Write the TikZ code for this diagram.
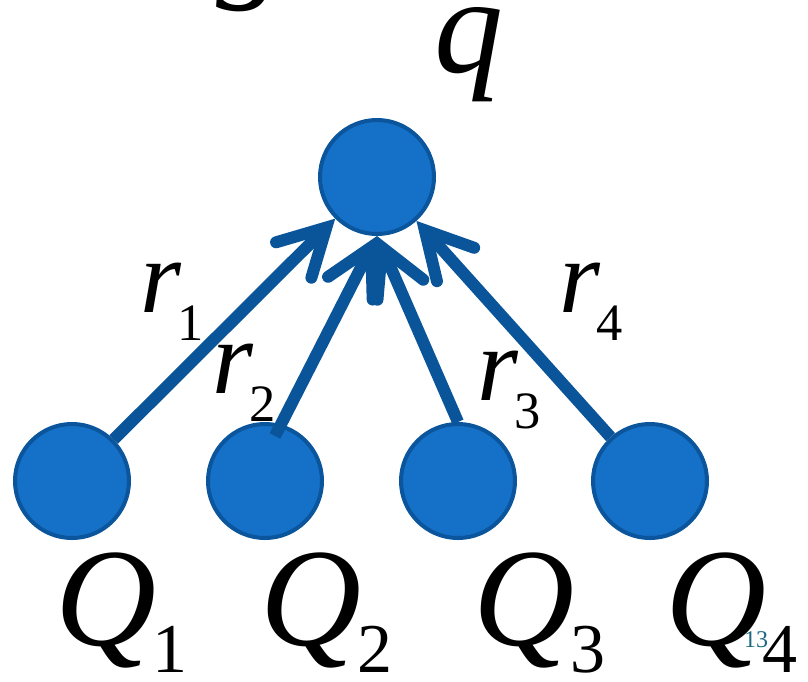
\documentclass[tikz,border=0pt]{standalone}
\usepackage{fontspec}
\setmainfont{Liberation Serif}
\usetikzlibrary{arrows.meta,calc}
\definecolor{ballfill}{HTML}{1570C8}
\definecolor{balledge}{HTML}{0B559C}
\definecolor{linkblue}{HTML}{0A5599}
\definecolor{pageteal}{HTML}{1B6A82}
\newcommand{\bigsym}[4]{{\fontsize{#3}{#3}\selectfont\itshape #1}\kern-4pt\raisebox{#4}{\fontsize{0.5\dimexpr#3\relax}{#3}\selectfont #2}}
\tikzset{
  ball/.style={circle, fill=ballfill, draw=balledge, line width=4pt, minimum size=114pt, inner sep=0pt},
  link/.style={draw=linkblue, line width=12pt, -{Straight Barb[length=46pt, width=50pt, line cap=round]}},
  lbl/.style={anchor=base west, inner sep=0pt, text=black}
}
\begin{document}
\begin{tikzpicture}[x=1pt, y=-1pt]
  \fill[white] (0,0) rectangle (808,681);
  \useasboundingbox (0,0) rectangle (808,681);
  \node[ball] (q) at (377,177) {};
  \node[ball] (Q1) at (72,481) {};
  \node[ball] (Q2) at (265,481) {};
  \node[ball] (Q3) at (458,481) {};
  \node[ball] (Q4) at (650,481) {};
  \draw[link] (Q1) -- (q);
  \draw[link] ($(Q2)+(10,-45)$) -- (q.south);
  \draw[link] (Q3.north) -- (q.south);
  \draw[link] (Q4) -- (q);
  \node[lbl] (g) at (216,-18) {\fontsize{138}{138}\selectfont\itshape g};
  \node[lbl] (qlbl) at (434,72) {\fontsize{138}{138}\selectfont\itshape q};
  \node[lbl] (r1) at (140,312) {\bigsym{r}{1}{105pt}{-28pt}};
  \node[lbl] (r2) at (212,393) {\bigsym{r}{2}{105pt}{-28pt}};
  \node[lbl] (r3) at (477,400) {\bigsym{r}{3}{105pt}{-28pt}};
  \node[lbl] (r4) at (559,312) {\bigsym{r}{4}{105pt}{-28pt}};
  \node[lbl] (Q1l) at (55,645) {\bigsym{Q}{1}{140pt}{-27pt}};
  \node[lbl] (Q2l) at (260,645) {\bigsym{Q}{2}{140pt}{-27pt}};
  \node[lbl] (Q3l) at (473,645) {\bigsym{Q}{3}{140pt}{-27pt}};
  \node[lbl] (Q4l) at (665,645) {\bigsym{Q}{4}{140pt}{-27pt}};
  \node[lbl, text=pageteal] (page) at (744,647) {\fontsize{24}{24}\selectfont 13};
\end{tikzpicture}
\end{document}
